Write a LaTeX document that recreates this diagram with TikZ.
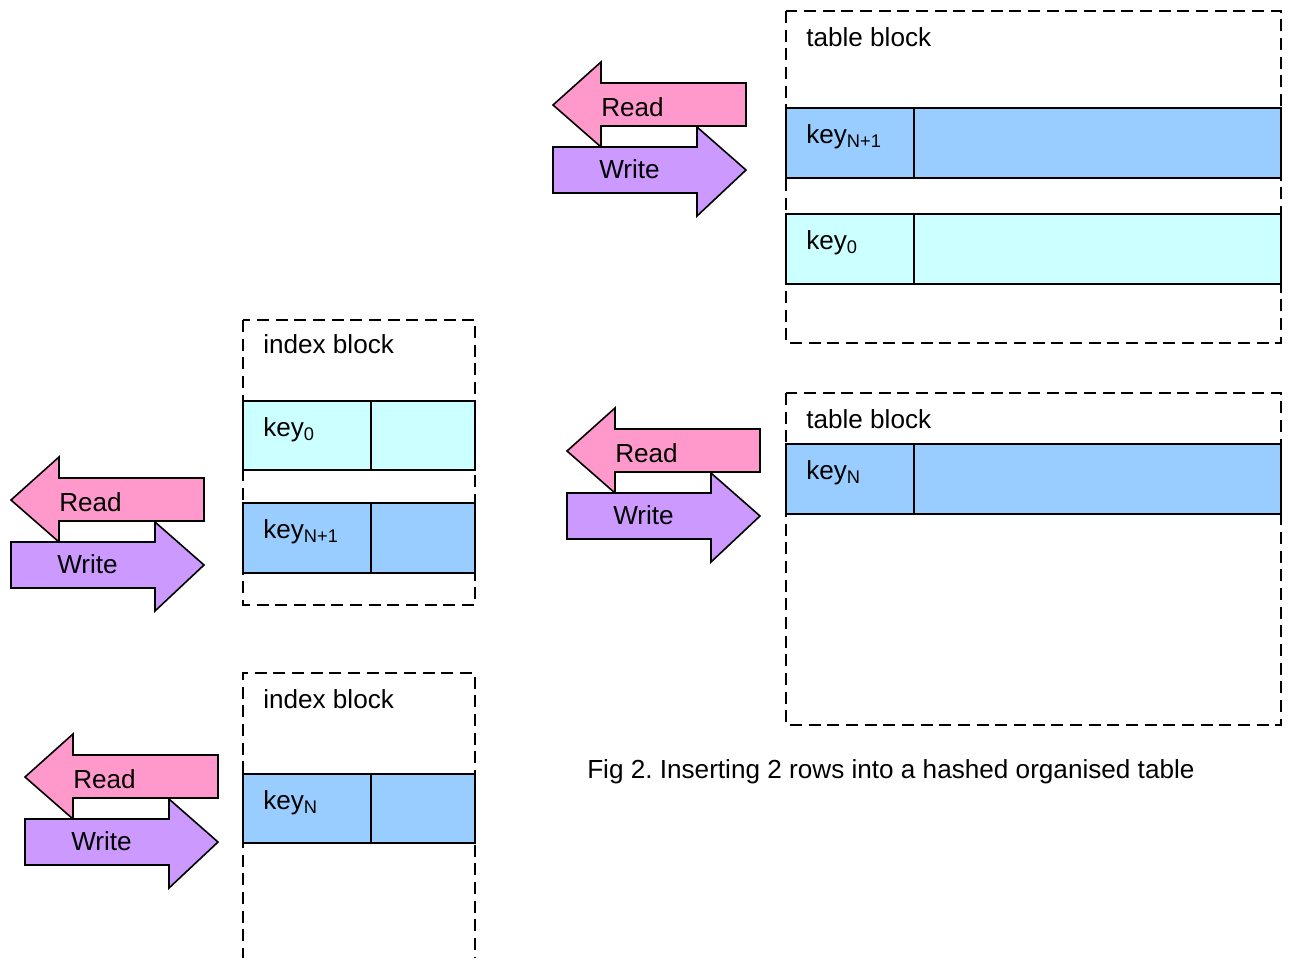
\documentclass[tikz,border=0pt]{standalone}
\usepackage{fontspec}
\setmainfont{Liberation Sans}
\frenchspacing
\definecolor{rdpink}{HTML}{FF99CC}
\definecolor{wrpurple}{HTML}{CC99FF}
\definecolor{keyblue}{HTML}{99CCFF}
\definecolor{keycyan}{HTML}{CCFFFF}
\begin{document}
\begin{tikzpicture}[x=0.75pt,y=-0.75pt,
  blk/.style={draw,dash pattern=on 9pt off 5pt,line width=1.2pt},
  rowbox/.style={draw,line width=1.2pt},
  arrowshape/.style={draw,line width=1.2pt,line join=miter},
  lbl/.style={anchor=base west,inner sep=0pt,font=\fontsize{19.6}{23}\selectfont}]
\useasboundingbox (0,0) rectangle (1289,957);
\clip (0,0) rectangle (1289,957);

% dashed blocks
\draw[blk] (786,11) rectangle (1281,343);
\draw[blk] (786,393) rectangle (1281,725);
\draw[blk] (243,320) rectangle (475,605);
\draw[blk] (243,960) -- (243,673) -- (475,673) -- (475,960);

% rows
\draw[rowbox,fill=keyblue] (786,108) rectangle (1281,178) (914,108) -- (914,178);
\draw[rowbox,fill=keycyan] (786,214) rectangle (1281,284) (914,214) -- (914,284);
\draw[rowbox,fill=keyblue] (786,444) rectangle (1281,514) (914,444) -- (914,514);
\draw[rowbox,fill=keycyan] (243,401) rectangle (475,470) (371,401) -- (371,470);
\draw[rowbox,fill=keyblue] (243,503) rectangle (475,573) (371,503) -- (371,573);
\draw[rowbox,fill=keyblue] (243,774) rectangle (475,843) (371,774) -- (371,843);

% labels
\node[lbl] (tb1) at (806,46) {table block};
\node[lbl] (tb2) at (806,428) {table block};
\node[lbl] (ib1) at (263,353) {index block};
\node[lbl] (ib2) at (263,708) {index block};
\node[lbl] (k1) at (806,143) {key\textsubscript{N+1}};
\node[lbl] (k2) at (806,249) {key\textsubscript{0}};
\node[lbl] (k3) at (806,479) {key\textsubscript{N}};
\node[lbl] (k4) at (263,436) {key\textsubscript{0}};
\node[lbl] (k5) at (263,538) {key\textsubscript{N+1}};
\node[lbl] (k6) at (263,809) {key\textsubscript{N}};
\node[lbl] (cap) at (587,778) {Fig 2. Inserting 2 rows into a hashed organised table};

% read/write arrow pairs
\foreach \dx/\dy/\n in {553/105/a, 567/451/b, 11/500/c, 25/777/d}{
  \begin{scope}[shift={(\dx,\dy)}]
    \draw[arrowshape,fill=rdpink] (0,0) -- (48,-43) -- (48,-22) -- (193,-22) -- (193,21) -- (48,21) -- (48,42) -- cycle;
    \draw[arrowshape,fill=wrpurple] (0,42) -- (144,42) -- (144,22) -- (193,65) -- (144,111) -- (144,88) -- (0,88) -- cycle;
    \node[lbl] (read\n) at (48,11) {Read};
    \node[lbl] (write\n) at (46,73) {Write};
  \end{scope}
}
\end{tikzpicture}
\end{document}
